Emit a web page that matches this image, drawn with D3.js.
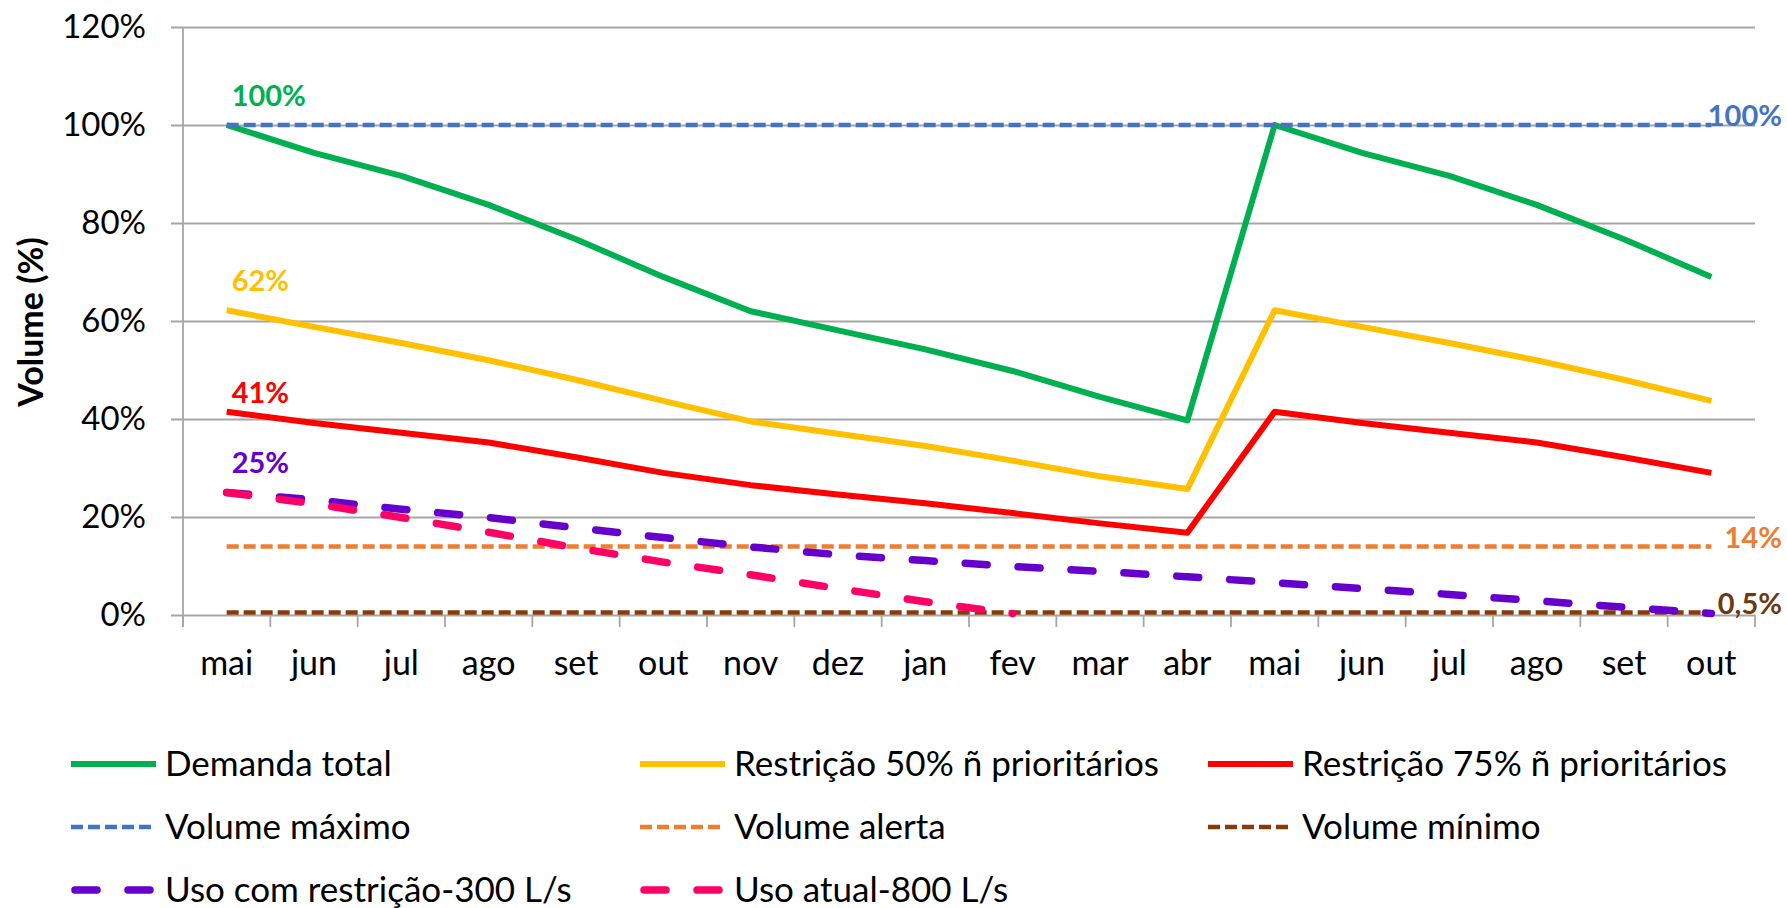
<!DOCTYPE html>
<html>
  <head>
    <meta charset="utf-8">
    <script src="https://cdn.jsdelivr.net/npm/d3@7"></script>
    <style>
      body { margin: 0; background: #fff; }
      text { font-family: Lato, "Open Sans", sans-serif; }
    </style>
  </head>
  <body>
    <script type="text/javascript">
      // months on the x axis (two cycles, mai -> out)
      var months = ["mai","jun","jul","ago","set","out","nov","dez","jan","fev","mar","abr",
                    "mai","jun","jul","ago","set","out"];
      var yTicks = [0, 0.2, 0.4, 0.6, 0.8, 1.0, 1.2];

      // series values, in %
      var demandaTotal = [100, 94.3, 89.6, 83.7, 76.7, 69.0, 62.0, 58.1, 54.2, 49.8, 44.5, 39.7,
                          100, 94.3, 89.6, 83.7, 76.7, 69.0];
      var restricao50 = [62.2, 58.8, 55.5, 52.0, 48.0, 43.7, 39.5, 37.0, 34.5, 31.5, 28.3, 25.7,
                         62.2, 58.8, 55.5, 52.0, 48.0, 43.7];
      var restricao75 = [41.5, 39.2, 37.2, 35.2, 32.2, 29.0, 26.5, 24.6, 22.8, 20.8, 18.7, 16.8,
                         41.5, 39.2, 37.2, 35.2, 32.2, 29.0];
      var volumeMaximo = [100, 100, 100, 100, 100, 100, 100, 100, 100, 100, 100, 100,
                          100, 100, 100, 100, 100, 100];
      var volumeAlerta = [14, 14, 14, 14, 14, 14, 14, 14, 14, 14, 14, 14,
                          14, 14, 14, 14, 14, 14];
      var volumeMinimo = [0.5, 0.5, 0.5, 0.5, 0.5, 0.5, 0.5, 0.5, 0.5, 0.5, 0.5, 0.5,
                          0.5, 0.5, 0.5, 0.5, 0.5, 0.5];
      var usoRestricao = [25, 23.5, 21.6, 19.9, 17.8, 15.8, 13.9, 12.3, 11.1, 9.9, 8.9, 7.8,
                          6.6, 5.4, 4.2, 2.9, 1.6, 0.3];
      var usoAtual = [25, 22.7, 19.9, 16.9, 13.7, 10.8, 8.2, 5.4, 2.7, 0.3, null, null,
                      null, null, null, null, null, null];

      var series = [
        {name: "Demanda total", values: demandaTotal, color: "#00B050", width: 6, dash: null},
        {name: "Restrição 50% ñ prioritários", values: restricao50, color: "#FFC000", width: 6, dash: null},
        {name: "Restrição 75% ñ prioritários", values: restricao75, color: "#FF0000", width: 6, dash: null},
        {name: "Volume máximo", values: volumeMaximo, color: "#4472C4", width: 4.5, dash: "12 5"},
        {name: "Volume alerta", values: volumeAlerta, color: "#ED7D31", width: 4.5, dash: "12 5"},
        {name: "Volume mínimo", values: volumeMinimo, color: "#843C0C", width: 4.5, dash: "12 5"},
        {name: "Uso com restrição-300 L/s", values: usoRestricao, color: "#6600CC", width: 7.5, dash: "22 31", round: true},
        {name: "Uso atual-800 L/s", values: usoAtual, color: "#FF0066", width: 7.5, dash: "22 31", round: true}
      ];

      var svg = d3.select("body").append("svg")
        .attr("width", 1787).attr("height", 908);

      var x = d3.scaleBand().domain(d3.range(months.length)).range([183, 1755]);
      var cx = function (i) { return x(i) + x.bandwidth() / 2; };
      var y = d3.scaleLinear().domain([0, 1.2]).range([615, 27]);

      // y axis with gridlines
      var yAxis = svg.append("g")
        .attr("transform", "translate(171,0)")
        .call(d3.axisLeft(y).tickValues(yTicks)
          .tickSize(-(1755 - 171)).tickPadding(25)
          .tickFormat(d3.format(".0%")));
      yAxis.select(".domain").remove();
      yAxis.selectAll("line").attr("stroke", "#A6A6A6").attr("stroke-width", 1.8);
      yAxis.selectAll("text").style("font-size", "33px").style("fill", "#000");

      // vertical axis line
      svg.append("line")
        .attr("x1", 183).attr("x2", 183).attr("y1", y(1.2)).attr("y2", 627)
        .attr("stroke", "#A6A6A6").attr("stroke-width", 1.8);

      // x axis: ticks between categories, labels centred
      svg.selectAll(".xtick")
        .data(d3.range(months.length + 1))
        .enter().append("line")
          .attr("x1", function (i) { return i < months.length ? x(i) : 1755; })
          .attr("x2", function (i) { return i < months.length ? x(i) : 1755; })
          .attr("y1", 615).attr("y2", 627)
          .attr("stroke", "#A6A6A6").attr("stroke-width", 1.8);

      svg.selectAll(".xlabel")
        .data(months)
        .enter().append("text")
          .attr("x", function (d, i) { return cx(i); })
          .attr("y", 675)
          .attr("text-anchor", "middle")
          .style("font-size", "34px")
          .style("fill", "#000")
          .text(function (d) { return d; });

      // axis title
      svg.append("text")
        .attr("transform", "translate(31,322) rotate(-90)")
        .attr("text-anchor", "middle")
        .attr("dy", "0.35em")
        .style("font-size", "34px")
        .style("font-weight", "bold")
        .style("fill", "#000")
        .text("Volume (%)");

      // lines
      var line = d3.line()
        .defined(function (d) { return d != null; })
        .x(function (d, i) { return cx(i); })
        .y(function (d) { return y(d / 100); });

      series.forEach(function (s) {
        svg.append("path")
          .datum(s.values)
          .attr("fill", "none")
          .attr("stroke", s.color)
          .attr("stroke-width", s.width)
          .attr("stroke-linejoin", "round")
          .attr("stroke-linecap", s.round ? "round" : "butt")
          .attr("stroke-dasharray", s.dash)
          .attr("d", line);
      });

      // data labels on first point
      var leftLabels = [
        {s: 0, text: "100%", dy: -29},
        {s: 1, text: "62%", dy: -29},
        {s: 2, text: "41%", dy: -19},
        {s: 6, text: "25%", dy: -30}
      ];
      leftLabels.forEach(function (l) {
        var s = series[l.s];
        svg.append("text")
          .attr("x", cx(0) + 5)
          .attr("y", y(s.values[0] / 100) + l.dy)
          .attr("dy", "0.35em")
          .style("font-size", "29px")
          .style("font-weight", "bold")
          .style("fill", s.color)
          .text(l.text);
      });

      // data labels on last point
      var rightLabels = [
        {s: 3, text: "100%"},
        {s: 4, text: "14%"},
        {s: 5, text: "0,5%"}
      ];
      rightLabels.forEach(function (l) {
        var s = series[l.s];
        var last = s.values[s.values.length - 1];
        svg.append("text")
          .attr("x", 1782)
          .attr("y", y(last / 100) - 9)
          .attr("dy", "0.35em")
          .attr("text-anchor", "end")
          .style("font-size", "29px")
          .style("font-weight", "bold")
          .style("fill", l.s === 5 ? "#6B3A10" : s.color)
          .text(l.text);
      });

      // legend, 3 columns x 3 rows
      var legendCols = [71, 640, 1208];
      var legendRows = [764, 827, 890];
      var legend = svg.selectAll(".legend")
        .data(series)
        .enter().append("g")
          .attr("transform", function (d, i) {
            return "translate(" + legendCols[i % 3] + "," + legendRows[Math.floor(i / 3)] + ")";
          });
      legend.append("line")
        .attr("x1", function (d) { return d.round ? 4 : 0; })
        .attr("x2", function (d) { return d.round ? 81 : 85; })
        .attr("y1", 0).attr("y2", 0)
        .attr("stroke", function (d) { return d.color; })
        .attr("stroke-width", function (d) { return d.width; })
        .attr("stroke-linecap", function (d) { return d.round ? "round" : "butt"; })
        .attr("stroke-dasharray", function (d) { return d.dash; });
      legend.append("text")
        .attr("x", 94)
        .attr("dy", "0.35em")
        .style("font-size", "35px")
        .style("fill", "#000")
        .text(function (d) { return d.name; });
    </script>
  </body>
</html>
